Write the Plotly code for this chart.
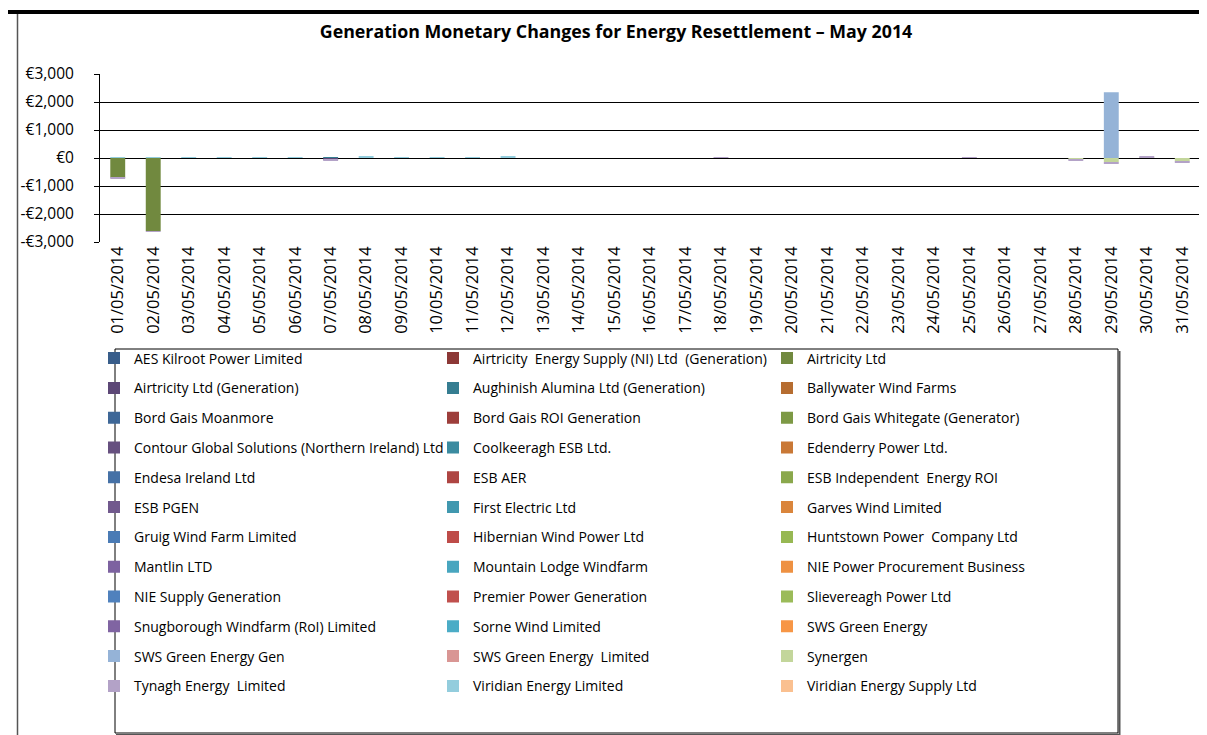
import plotly.graph_objects as go

# ---------------- data ----------------
dates = ["01/05/2014", "02/05/2014", "03/05/2014", "04/05/2014", "05/05/2014", "06/05/2014",
         "07/05/2014", "08/05/2014", "09/05/2014", "10/05/2014", "11/05/2014", "12/05/2014",
         "13/05/2014", "14/05/2014", "15/05/2014", "16/05/2014", "17/05/2014", "18/05/2014",
         "19/05/2014", "20/05/2014", "21/05/2014", "22/05/2014", "23/05/2014", "24/05/2014",
         "25/05/2014", "26/05/2014", "27/05/2014", "28/05/2014", "29/05/2014", "30/05/2014",
         "31/05/2014"]

series_names = [
    "AES Kilroot Power Limited", "Airtricity  Energy Supply (NI) Ltd  (Generation)", "Airtricity Ltd",
    "Airtricity Ltd (Generation)", "Aughinish Alumina Ltd (Generation)", "Ballywater Wind Farms",
    "Bord Gais Moanmore", "Bord Gais ROI Generation", "Bord Gais Whitegate (Generator)",
    "Contour Global Solutions (Northern Ireland) Ltd", "Coolkeeragh ESB Ltd.", "Edenderry Power Ltd.",
    "Endesa Ireland Ltd", "ESB AER", "ESB Independent  Energy ROI",
    "ESB PGEN", "First Electric Ltd", "Garves Wind Limited",
    "Gruig Wind Farm Limited", "Hibernian Wind Power Ltd", "Huntstown Power  Company Ltd",
    "Mantlin LTD", "Mountain Lodge Windfarm", "NIE Power Procurement Business",
    "NIE Supply Generation", "Premier Power Generation", "Slievereagh Power Ltd",
    "Snugborough Windfarm (RoI) Limited", "Sorne Wind Limited", "SWS Green Energy",
    "SWS Green Energy Gen", "SWS Green Energy  Limited", "Synergen",
    "Tynagh Energy  Limited", "Viridian Energy Limited", "Viridian Energy Supply Ltd",
]

# values (EUR); series not listed are zero on every day
airtricity_ltd = [-700, -2610, 0, 0, 0, 0, 0, 0, 0, 0, 0, 0, 0, 0, 0, 0,
                  0, 0, 0, 0, 0, 0, 0, 0, 0, 0, 0, 0, 0, 0, 0]
airtricity_ltd_gen = [0, 0, 0, 0, 0, 0, -60, 0, 0, 0, 0, 0, 0, 0, 0, 0,
                      0, 0, 0, 0, 0, 0, 0, 0, 0, 0, 0, 0, 0, 0, 0]
aughinish = [0, 0, 0, 0, 0, 0, 25, 0, 0, 0, 0, 0, 0, 0, 0, 0,
             0, 0, 0, 0, 0, 0, 0, 0, 0, 0, 0, 0, 0, 0, 0]
sws_green_energy_gen = [0, 0, 0, 0, 0, 0, 0, 0, 0, 0, 0, 0, 0, 0, 0, 0,
                        0, 0, 0, 0, 0, 0, 0, 0, 0, 0, 0, 0, 2350, 0, 0]
synergen = [0, 0, 0, 0, 0, 0, 0, 0, 0, 0, 0, 0, 0, 0, 0, 0,
            0, 0, 0, 0, 0, 0, 0, 0, 0, 0, 0, -50, -150, 25, -120]
tynagh = [-25, -20, 0, 0, 0, 0, -25, 0, 0, 0, 0, 0, 0, 0, 0, 0,
          0, 35, 0, 0, 0, 0, 0, 0, 35, 0, 0, -40, -60, 40, -30]
viridian_energy_limited = [30, 30, 30, 30, 30, 30, 0, 70, 30, 30, 30, 70, 0, 0, 0, 0,
                           0, 0, 0, 0, 0, 0, 0, 0, 0, 0, 0, 0, 0, 0, 0]

nonzero = {
    "Airtricity Ltd": airtricity_ltd,
    "Airtricity Ltd (Generation)": airtricity_ltd_gen,
    "Aughinish Alumina Ltd (Generation)": aughinish,
    "SWS Green Energy Gen": sws_green_energy_gen,
    "Synergen": synergen,
    "Tynagh Energy  Limited": tynagh,
    "Viridian Energy Limited": viridian_energy_limited,
}
zero_day = [0] * len(dates)

y_ticks = [-3000, -2000, -1000, 0, 1000, 2000, 3000]

# ---------------- styles ----------------
blues = ["#385D8A", "#3E6797", "#4571A6", "#4A7BB5", "#4F81BD", "#95B3D7"]
reds = ["#8C3836", "#9D3E3B", "#AE4542", "#BE4C49", "#C0504D", "#D99694"]
greens = ["#71893F", "#7D9945", "#8AA84C", "#97B853", "#9BBB59", "#C3D69B"]
purples = ["#5C4776", "#66507F", "#71598D", "#7D62A0", "#8064A2", "#B3A2C7"]
teals = ["#357D91", "#3B8BA0", "#4198AF", "#48A6BF", "#4BACC6", "#93CDDD"]
oranges = ["#B66D31", "#C97836", "#DA853C", "#EE9142", "#F79646", "#FAC090"]
families = [blues, reds, greens, purples, teals, oranges]

FONT = "Open Sans, Lato, sans-serif"
W, H = 1207, 735
L, R, T, B = 92, 15, 66, 501  # plot area px: x 92..1192, y 66..234
PW, PH = W - L - R, H - T - B


def px2x(px):
    return (px - L) / PW


def px2y(py):
    return (H - B - py) / PH


def fmt(v):
    s = "€{:,}".format(abs(v))
    return "-" + s if v < 0 else s


fig = go.Figure()
legend_ids = ["legend", "legend2", "legend3"]
for i, name in enumerate(series_names):
    row, col = divmod(i, 3)
    color = families[(row % 2) * 3 + col][row // 2]
    fig.add_trace(go.Bar(
        x=dates, y=nonzero.get(name, zero_day), name=name,
        marker=dict(color=color, line=dict(width=0)),
        legend=legend_ids[col], legendgroup=name,
    ))

LEG_FS = 14
legend_common = dict(
    xref="container", yref="container", xanchor="left", yanchor="top",
    bgcolor="rgba(0,0,0,0)", font=dict(family=FONT, size=LEG_FS, color="#000"),
    traceorder="grouped", tracegroupgap=29.8 - (LEG_FS * 1.3 + 3), itemclick=False,
    maxheight=600,
)
LEG_TOP = 1 - 334.5 / H

fig.update_layout(
    width=W, height=H,
    margin=dict(l=L, r=R, t=T, b=B, autoexpand=False),
    paper_bgcolor="white", plot_bgcolor="white",
    barmode="relative", bargap=0.58,
    title=dict(text="<b>Generation Monetary Changes for Energy Resettlement – May 2014</b>",
               x=608 / W, xanchor="center", y=1 - 24 / H, yanchor="middle",
               font=dict(family=FONT, size=17.8, color="#000")),
    font=dict(family=FONT, color="#000"),
    xaxis=dict(type="category", tickangle=-90, ticks="", showgrid=False, showline=False,
               tickfont=dict(family=FONT, size=16.5, color="#000"), fixedrange=True),
    xaxis2=dict(type="linear", overlaying="x", anchor="free", position=0.5,
                range=[-0.5, len(dates) - 0.5],
                tickvals=[k - 0.5 for k in range(len(dates) + 1)], ticks="outside",
                ticklen=5, tickcolor="#000", showticklabels=False, showline=True,
                linecolor="#404040", linewidth=1.5, showgrid=False, zeroline=False),
    yaxis=dict(range=[y_ticks[0], y_ticks[-1]], tickvals=y_ticks,
               ticktext=[fmt(v) for v in y_ticks], showgrid=True, gridcolor="#000",
               gridwidth=1, zeroline=False, showline=True, linecolor="#000", linewidth=1,
               ticks="outside", ticklen=5, tickcolor="#000", ticklabelstandoff=17,
               tickfont=dict(family=FONT, size=15.5, color="#000")),
    legend=dict(x=86 / W, y=LEG_TOP, **legend_common),
    legend2=dict(x=425 / W, y=LEG_TOP, **legend_common),
    legend3=dict(x=759 / W, y=LEG_TOP, **legend_common),
    showlegend=True,
)

shapes = [
    # plot right border
    dict(type="line", xref="paper", yref="paper", x0=1, x1=1, y0=0, y1=1,
         line=dict(color="#808080", width=1.5)),
    # legend box
    dict(type="rect", xref="paper", yref="paper", x0=px2x(107), x1=px2x(1110),
         y0=px2y(725), y1=px2y(341), line=dict(color="#000", width=1), layer="below"),
    dict(type="line", xref="paper", yref="paper", x0=px2x(108), x1=px2x(1112),
         y0=px2y(727), y1=px2y(727), line=dict(color="#555", width=2)),
    dict(type="line", xref="paper", yref="paper", x0=px2x(1111.5), x1=px2x(1111.5),
         y0=px2y(727), y1=px2y(343), line=dict(color="#555", width=2)),
    # outer frame
    dict(type="line", xref="paper", yref="paper", x0=px2x(0), x1=px2x(W),
         y0=px2y(4), y1=px2y(4), line=dict(color="#000", width=4)),
    dict(type="line", xref="paper", yref="paper", x0=px2x(9.5), x1=px2x(9.5),
         y0=px2y(6), y1=px2y(H), line=dict(color="#555", width=1.5)),
]
fig.update_layout(shapes=shapes)

fig.write_html("out.html")
